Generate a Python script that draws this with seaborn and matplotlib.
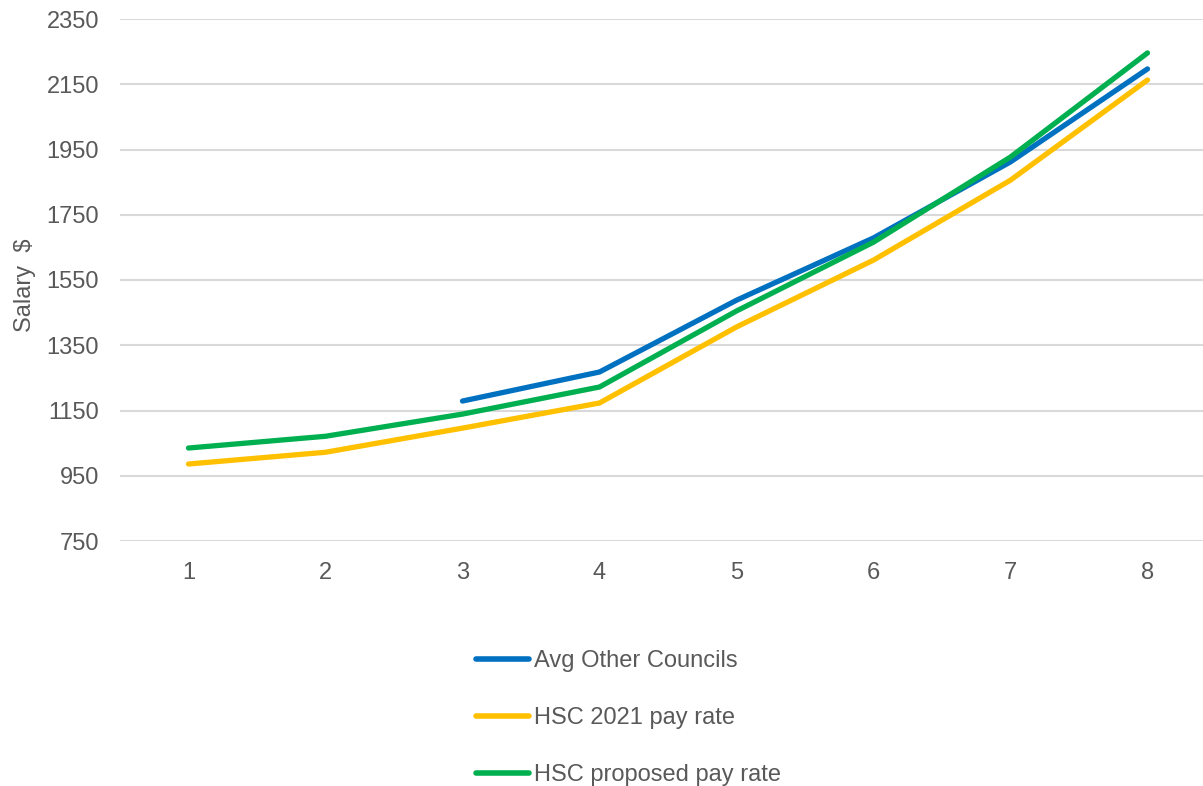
import matplotlib
matplotlib.use("Agg")
import matplotlib.pyplot as plt
import numpy as np
import pandas as pd
import seaborn as sns

# Salary by grade level
levels = [1, 2, 3, 4, 5, 6, 7, 8]
avg_other_councils = [np.nan, np.nan, 1179, 1268, 1488, 1679, 1912, 2197]
hsc_2021_rate = [986, 1022, 1096, 1173, 1406, 1611, 1856, 2163]
hsc_proposed_rate = [1035, 1071, 1139, 1222, 1455, 1666, 1927, 2246]

series_names = ["Avg Other Councils", "HSC 2021 pay rate", "HSC proposed pay rate"]
series_colors = ["#0070C0", "#FFC000", "#00B050"]
y_ticks = [750, 950, 1150, 1350, 1550, 1750, 1950, 2150, 2350]

df = pd.DataFrame({
    "level": levels * 3,
    "salary": avg_other_councils + hsc_2021_rate + hsc_proposed_rate,
    "series": [series_names[0]] * 8 + [series_names[1]] * 8 + [series_names[2]] * 8,
})

sns.set_theme(style="white")
plt.rcParams["font.family"] = ["Liberation Sans", "DejaVu Sans"]
text_color = "#595959"
fs = 17

W, H = 1203, 786
fig = plt.figure(figsize=(W / 100, H / 100), dpi=100)
ax = fig.add_axes([120 / W, 1 - 541 / H, (W - 120) / W, (541 - 19) / H])

sns.lineplot(data=df, x="level", y="salary", hue="series", hue_order=series_names,
             palette=series_colors, linewidth=3.8, ax=ax, legend=False,
             solid_capstyle="round")

ax.set_ylim(750, 2350)
ax.set_xlim(0.5, 8.5 - 13 / 137)
ax.set_yticks(y_ticks)
ax.set_xticks(levels)
ax.yaxis.grid(True, color="#D9D9D9", linewidth=1.5)
ax.xaxis.grid(False)
for s in ax.spines.values():
    s.set_visible(False)
ax.tick_params(axis="both", length=0, labelsize=fs, labelcolor=text_color)
ax.tick_params(axis="y", pad=15)
ax.tick_params(axis="x", pad=15)
ax.set_xlabel("")
ax.set_ylabel("Salary  $", fontsize=fs, color=text_color, labelpad=0)
ax.yaxis.set_label_coords(-84 / (W - 120), 0.49)

handles = [plt.Line2D([], [], color=c, linewidth=4, solid_capstyle="round") for c in series_colors]
fig.legend(handles, series_names, loc="upper left", bbox_to_anchor=(476 / W, 1 - 650 / H),
           frameon=False, fontsize=fs, handlelength=2.25, handletextpad=0.2,
           labelspacing=1.48, borderpad=0, borderaxespad=0, labelcolor=text_color)

fig.savefig("out.png", dpi=100)
